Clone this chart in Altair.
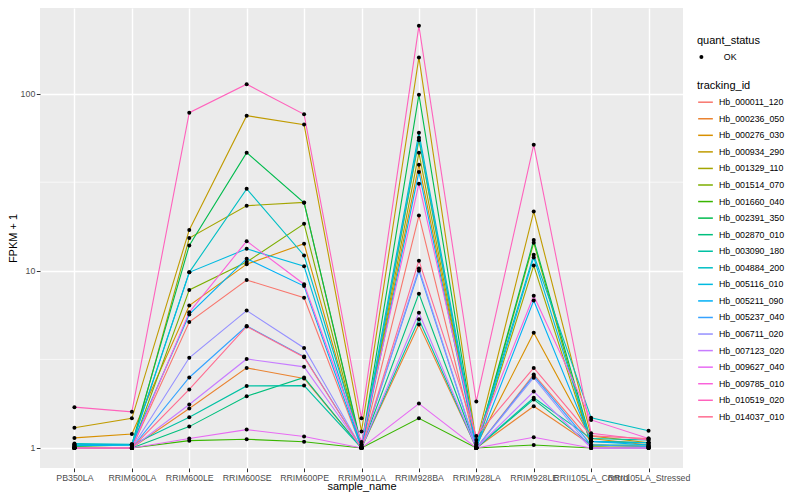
import altair as alt
import pandas as pd

samples = ["PB350LA", "RRIM600LA", "RRIM600LE", "RRIM600SE", "RRIM600PE",
           "RRIM901LA", "RRIM928BA", "RRIM928LA", "RRIM928LE",
           "RRII105LA_Control", "RRII105LA_Stressed"]

tracking_ids = ["Hb_000011_120", "Hb_000236_050", "Hb_000276_030", "Hb_000934_290",
                "Hb_001329_110", "Hb_001514_070", "Hb_001660_040", "Hb_002391_350",
                "Hb_002870_010", "Hb_003090_180", "Hb_004884_200", "Hb_005116_010",
                "Hb_005211_090", "Hb_005237_040", "Hb_006711_020", "Hb_007123_020",
                "Hb_009627_040", "Hb_009785_010", "Hb_010519_020", "Hb_014037_010"]

colors = ["#F8766D", "#EA8331", "#D89000", "#C09B00", "#A3A500", "#7CAE00", "#39B600",
          "#00BB4E", "#00BF7D", "#00C1A3", "#00BFC4", "#00BAE0", "#00B0F6", "#35A2FF",
          "#9590FF", "#C77CFF", "#E76BF3", "#FA62DB", "#FF62BC", "#FF6C91"]

# FPKM + 1, one list per tracking_id, in sample order
v_000011_120 = [1.0, 1.0, 5.14, 8.87, 7.05, 1.0, 20.5, 1.0, 2.6, 1.09, 1.07]
v_000236_050 = [1.0, 1.0, 1.67, 2.83, 2.47, 1.0, 4.97, 1.0, 1.72, 1.04, 1.02]
v_000276_030 = [1.14, 1.2, 6.36, 10.9, 14.2, 1.02, 39.7, 1.03, 4.47, 1.13, 1.04]
v_000934_290 = [1.30, 1.47, 17.0, 75.0, 66.8, 1.24, 160.0, 1.07, 21.6, 1.17, 1.07]
v_001329_110 = [1.0, 1.0, 15.3, 23.3, 24.3, 1.0, 46.3, 1.0, 10.7, 1.04, 1.02]
v_001514_070 = [1.0, 1.0, 7.8, 11.2, 18.4, 1.0, 54.6, 1.0, 14.4, 1.02, 1.0]
v_001660_040 = [1.02, 1.0, 1.10, 1.12, 1.085, 1.0, 1.47, 1.0, 1.04, 1.0, 1.0]
v_002391_350 = [1.04, 1.05, 13.9, 46.4, 24.2, 1.03, 98.6, 1.02, 14.9, 1.09, 1.07]
v_002870_010 = [1.0, 1.0, 1.32, 1.96, 2.50, 1.0, 7.43, 1.0, 1.88, 1.04, 1.04]
v_003090_180 = [1.03, 1.04, 1.49, 2.24, 2.25, 1.0, 5.32, 1.0, 1.92, 1.13, 1.11]
v_004884_200 = [1.06, 1.05, 9.8, 29.0, 12.2, 1.05, 60.2, 1.05, 12.3, 1.48, 1.25]
v_005116_010 = [1.05, 1.04, 9.8, 13.3, 10.6, 1.0, 56.4, 1.0, 11.9, 1.09, 1.07]
v_005211_090 = [1.03, 1.04, 5.67, 11.7, 8.2, 1.0, 36.1, 1.0, 6.8, 1.09, 1.04]
v_005237_040 = [1.0, 1.0, 2.50, 4.88, 3.28, 1.0, 10.0, 1.0, 2.55, 1.04, 1.02]
v_006711_020 = [1.0, 1.0, 3.23, 5.96, 3.67, 1.0, 10.3, 1.0, 2.49, 1.0, 1.0]
v_007123_020 = [1.0, 1.0, 1.76, 3.18, 2.87, 1.0, 5.8, 1.0, 2.08, 1.0, 1.0]
v_009627_040 = [1.0, 1.0, 1.13, 1.27, 1.16, 1.0, 1.78, 1.0, 1.15, 1.0, 1.0]
v_009785_010 = [1.0, 1.0, 5.83, 14.7, 8.4, 1.08, 31.0, 1.11, 7.23, 1.44, 1.13]
v_010519_020 = [1.70, 1.60, 78.0, 113.0, 76.4, 1.47, 241.0, 1.83, 51.5, 1.21, 1.11]
v_014037_010 = [1.0, 1.0, 2.14, 4.85, 3.25, 1.0, 11.4, 1.17, 2.83, 1.17, 1.13]

series = [v_000011_120, v_000236_050, v_000276_030, v_000934_290, v_001329_110,
          v_001514_070, v_001660_040, v_002391_350, v_002870_010, v_003090_180,
          v_004884_200, v_005116_010, v_005211_090, v_005237_040, v_006711_020,
          v_007123_020, v_009627_040, v_009785_010, v_010519_020, v_014037_010]

y_major = [1, 10, 100]
y_minor = [10 ** 0.5, 10 ** 1.5]

rows = []
for tid, vals in zip(tracking_ids, series):
    for s, v in zip(samples, vals):
        rows.append({"tracking_id": tid, "sample_name": s, "value": v, "quant_status": "OK"})
df = pd.DataFrame(rows)

FONT = "Liberation Sans"

xaxis = alt.Axis(title="sample_name", labelAngle=0, labelOverlap=False,
                 labelFontSize=8.8, labelColor="#4D4D4D", labelPadding=1.5,
                 tickColor="#333333", tickSize=3.7, domain=False,
                 grid=True, gridColor="white", gridWidth=1.4,
                 titleFontSize=11, titleFontWeight="normal", titleColor="black",
                 titleBaseline="top", titleY=12.5, labelFlush=False)

yscale = alt.Scale(type="log", domain=[0.771, 304], nice=False)

yaxis = alt.Axis(title="FPKM + 1", values=y_major, format="d",
                 labelFontSize=8.8, labelColor="#4D4D4D", labelPadding=1.5,
                 tickColor="#333333", tickSize=3.7, domain=False,
                 grid=True, gridColor="white", gridWidth=1.4,
                 titleFontSize=11, titleFontWeight="normal", titleColor="black",
                 titlePadding=2)

xenc = alt.X("sample_name:N", sort=samples,
             scale=alt.Scale(type="point", padding=0.6), axis=xaxis)
yenc = alt.Y("value:Q", scale=yscale, axis=yaxis)

minor = alt.Chart(pd.DataFrame({"value": y_minor})).mark_rule(
    color="white", strokeWidth=0.7
).encode(y=yenc)

lines = alt.Chart(df).mark_line(strokeWidth=1.1).encode(
    x=xenc, y=yenc,
    color=alt.Color("tracking_id:N", sort=tracking_ids,
                    scale=alt.Scale(domain=tracking_ids, range=colors),
                    legend=alt.Legend(title="tracking_id", orient="none",
                                      legendX=657, legendY=71.5,
                                      symbolType="stroke", symbolStrokeWidth=1.5,
                                      symbolSize=216, rowPadding=2.56,
                                      labelFontSize=8.8, labelOffset=5,
                                      titleFontSize=11, titleFontWeight="normal",
                                      titlePadding=3.2, labelColor="black",
                                      titleColor="black", labelLimit=200)),
    detail="tracking_id:N",
)

points = alt.Chart(df).mark_point(filled=True, size=16, opacity=1).encode(
    x=xenc,
    y=yenc,
    color=alt.value("black"),
    shape=alt.Shape("quant_status:N", scale=alt.Scale(range=["circle"]),
                    legend=alt.Legend(title="quant_status", orient="none",
                                      legendX=657, legendY=26.5,
                                      symbolSize=16, symbolFillColor="black",
                                      symbolStrokeColor="black",
                                      labelFontSize=8.8, labelOffset=18,
                                      titleFontSize=11, titleFontWeight="normal",
                                      titlePadding=7, labelColor="black",
                                      titleColor="black")),
)

chart = alt.layer(minor, lines, points).properties(
    width=643, height=460,
    autosize=alt.AutoSizeParams(type="none"),
    padding={"left": 32, "top": 0, "right": 108, "bottom": 24},
).configure(
    font=FONT
).configure_view(
    fill="#EBEBEB", strokeWidth=0
)

chart.save("out.html", embed_options={"renderer": "svg", "actions": False})
